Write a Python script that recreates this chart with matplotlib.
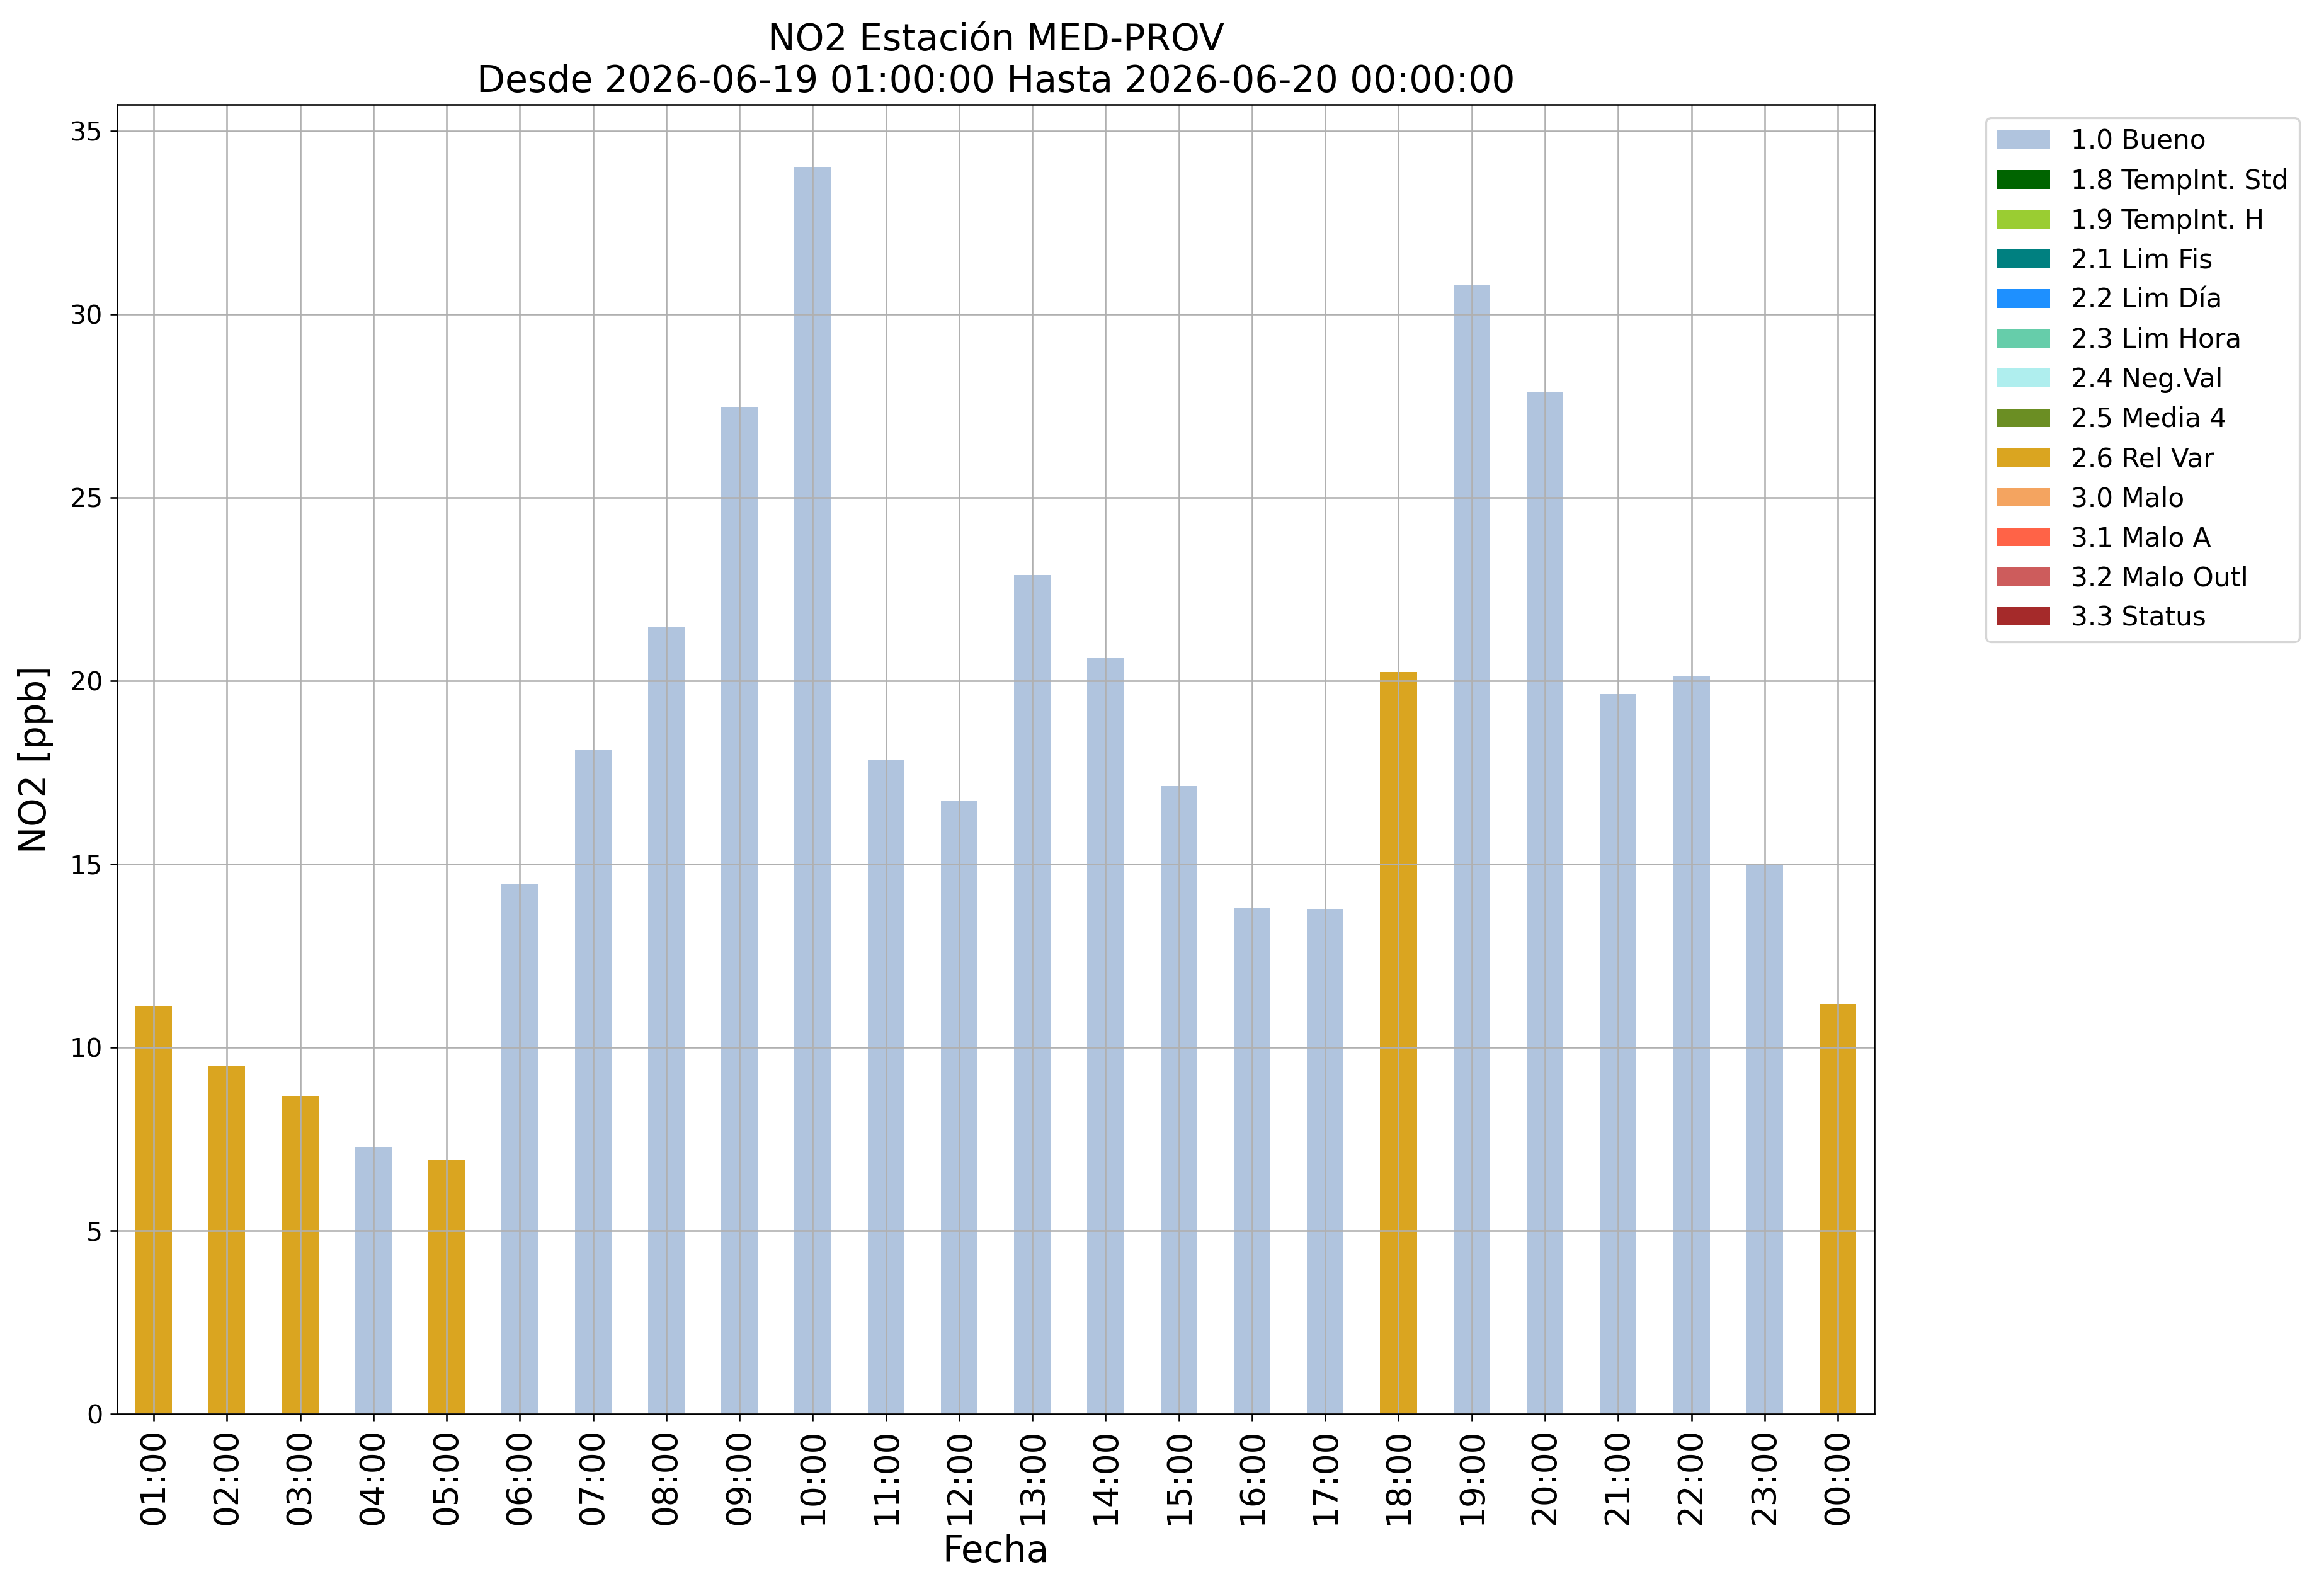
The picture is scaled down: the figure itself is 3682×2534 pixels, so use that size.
import matplotlib
matplotlib.use('Agg')
import matplotlib.pyplot as plt
import numpy as np

# datos horarios NO2 (ppb) y bandera de calidad
horas = ['01:00', '02:00', '03:00', '04:00', '05:00', '06:00', '07:00', '08:00',
         '09:00', '10:00', '11:00', '12:00', '13:00', '14:00', '15:00', '16:00',
         '17:00', '18:00', '19:00', '20:00', '21:00', '22:00', '23:00', '00:00']
valores = [11.14, 9.49, 8.68, 7.28, 6.93, 14.45, 18.12, 21.47,
           27.47, 34.02, 17.84, 16.74, 22.88, 20.64, 17.13, 13.80,
           13.76, 20.23, 30.79, 27.86, 19.64, 20.11, 14.99, 11.18]
banderas = ['2.6 Rel Var', '2.6 Rel Var', '2.6 Rel Var', '1.0 Bueno', '2.6 Rel Var', '1.0 Bueno',
            '1.0 Bueno', '1.0 Bueno', '1.0 Bueno', '1.0 Bueno', '1.0 Bueno', '1.0 Bueno',
            '1.0 Bueno', '1.0 Bueno', '1.0 Bueno', '1.0 Bueno', '1.0 Bueno', '2.6 Rel Var',
            '1.0 Bueno', '1.0 Bueno', '1.0 Bueno', '1.0 Bueno', '1.0 Bueno', '2.6 Rel Var']

categorias = ['1.0 Bueno', '1.8 TempInt. Std', '1.9 TempInt. H', '2.1 Lim Fis', '2.2 Lim Día',
              '2.3 Lim Hora', '2.4 Neg.Val', '2.5 Media 4', '2.6 Rel Var', '3.0 Malo',
              '3.1 Malo A', '3.2 Malo Outl', '3.3 Status']
colores = ['lightsteelblue', 'darkgreen', 'yellowgreen', 'teal', 'dodgerblue',
           'mediumaquamarine', 'paleturquoise', 'olivedrab', 'goldenrod', 'sandybrown',
           'tomato', 'indianred', 'brown']

fig = plt.figure(figsize=(3682 / 235, 2534 / 235), dpi=235)
ax = fig.add_subplot(111)
fig.subplots_adjust(left=0.0505, right=0.8083, bottom=0.114, top=0.9346)

x = np.arange(len(horas))
vals = np.array(valores)
flags = np.array(banderas)
base = np.zeros(len(horas))
for cat, col in zip(categorias, colores):
    h = np.where(flags == cat, vals, 0.0)
    ax.bar(x, h, width=0.5, bottom=base, color=col, label=cat)
    base = base + h

ax.set_xlim(-0.5, len(horas) - 0.5)
ax.set_ylim(0, vals.max() * 1.05)
ax.set_xticks(x)
ax.set_xticklabels(horas, rotation=90, fontsize=16.3)
ax.tick_params(axis='y', labelsize=12.6)
ax.grid(True)
ax.set_xlabel('Fecha', fontsize=17.7)
ax.set_ylabel('NO2 [ppb]', fontsize=17.7, labelpad=8)
ax.set_title('NO2 Estación MED-PROV\nDesde 2026-06-19 01:00:00 Hasta 2026-06-20 00:00:00', fontsize=17.9)
ax.legend(bbox_to_anchor=(1.056, 1), loc='upper left', fontsize=12.9)

fig.savefig('out.png', dpi=235)
